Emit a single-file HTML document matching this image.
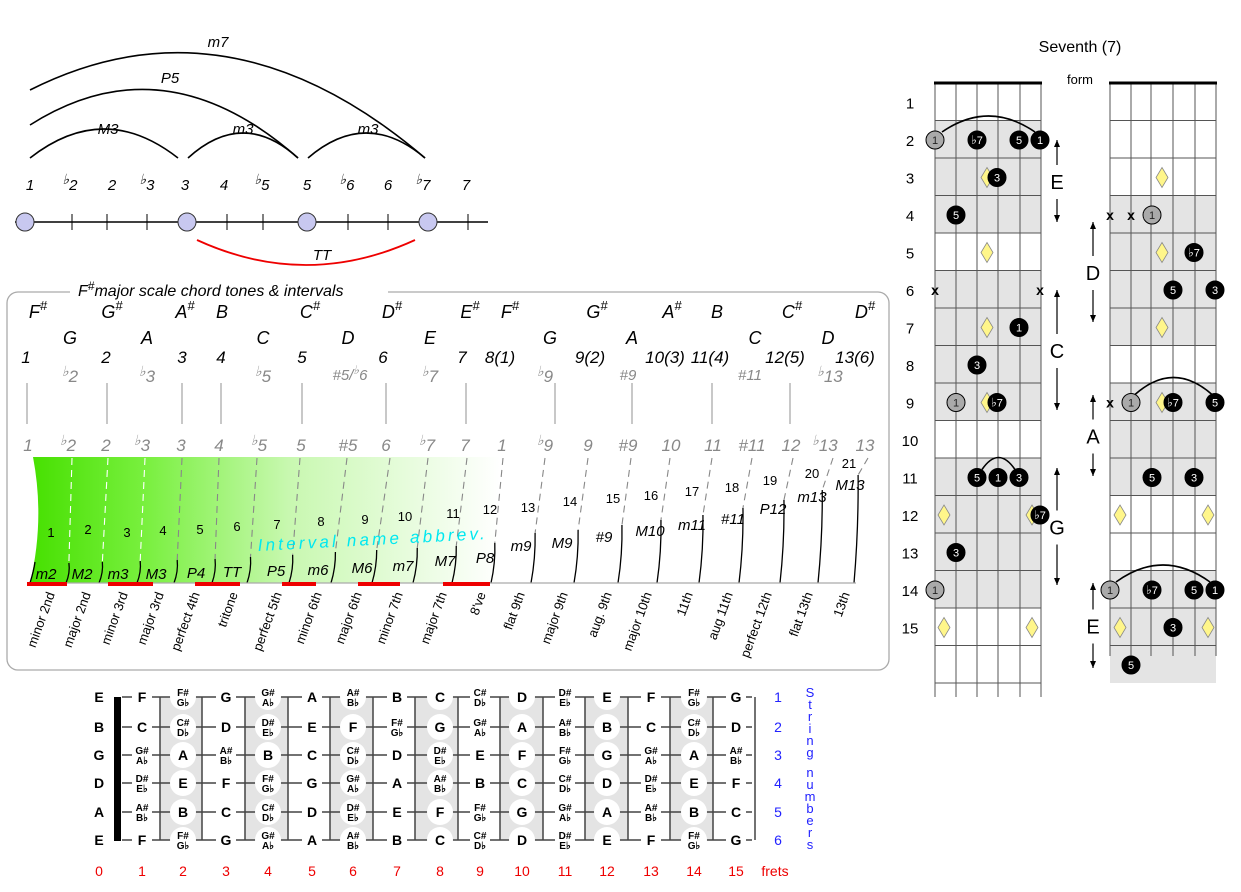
<!DOCTYPE html>
<html><head><meta charset="utf-8">
<style>
html,body{margin:0;padding:0;background:#fff;}
svg{display:block;font-family:"Liberation Sans",Arial,sans-serif;}
</style></head>
<body>
<svg id="s" width="1241" height="892" viewBox="0 0 1241 892" xmlns="http://www.w3.org/2000/svg">
<defs>
<linearGradient id="g" x1="0" x2="1" y1="0" y2="0">
<stop offset="0" stop-color="#46e000"/><stop offset="0.25" stop-color="#7af040"/><stop offset="0.55" stop-color="#c8f8b0"/><stop offset="1" stop-color="#ffffff"/>
</linearGradient>
</defs>
</svg>
<script>
var s=document.getElementById('s');var o='';
function T(x,y,t,a){o+='<text x="'+x+'" y="'+y+'" '+(a||'')+'>'+t+'</text>';}
function L(x1,y1,x2,y2,a){o+='<line x1="'+x1+'" y1="'+y1+'" x2="'+x2+'" y2="'+y2+'" '+(a||'stroke="#000"')+'/>';}
var fl='<tspan font-size="14" dy="-6">&#9837;</tspan><tspan dy="6">';
function flat(x,y,n,a){o+='<text x="'+x+'" y="'+y+'" '+a+'>'+fl+n+'</tspan></text>';}
// top interval diagram
var it='font-size="15" font-style="italic" text-anchor="middle"';
o+='<path d="M30,158 Q104,100 178,158" fill="none" stroke="#000" stroke-width="1.6"/>';
o+='<path d="M188,158 Q243,108 298,158" fill="none" stroke="#000" stroke-width="1.6"/>';
o+='<path d="M308,158 Q366,108 425,158" fill="none" stroke="#000" stroke-width="1.6"/>';
o+='<path d="M30,125 Q164,40 298,158" fill="none" stroke="#000" stroke-width="1.6"/>';
o+='<path d="M30,90 Q228,-10 425,158" fill="none" stroke="#000" stroke-width="1.6"/>';
T(108,134,'M3',it);T(243,134,'m3',it);T(368,134,'m3',it);T(170,83,'P5',it);T(218,47,'m7',it);
o+='<path d="M197,240 Q306,290 415,240" fill="none" stroke="#e00" stroke-width="1.8"/>';
T(322,260,'TT',it);
T(30,190,'1',it);flat(70,190,'2',it);T(112,190,'2',it);flat(147,190,'3',it);T(185,190,'3',it);T(224,190,'4',it);
flat(262,190,'5',it);T(307,190,'5',it);flat(347,190,'6',it);T(388,190,'6',it);flat(423,190,'7',it);T(466,190,'7',it);
L(15,222,488,222,'stroke="#000" stroke-width="1.6"');
[72,107,147,227,263,348,388,468].forEach(function(x){L(x,214,x,230);});
[25,187,307,428].forEach(function(x){o+='<circle cx="'+x+'" cy="222" r="9" fill="#c8c8f0" stroke="#333"/>';});
// panel
o+='<rect x="7" y="292" width="882" height="378" rx="11" fill="none" stroke="#aaa" stroke-width="1.3"/>';
o+='<rect x="70" y="282" width="318" height="18" fill="#fff"/>';
o+='<text x="78" y="296" font-size="16" font-style="italic">F<tspan font-size="12" dy="-6">#</tspan><tspan dy="6">major scale chord tones &amp; intervals</tspan></text>';
var nt='font-size="18" font-style="italic" text-anchor="middle"';
function sh(x,y,n){o+='<text x="'+x+'" y="'+y+'" '+nt+'>'+n+'<tspan font-size="13" dy="-8">#</tspan></text>';}
[[38,'F'],[112,'G'],[185,'A'],[310,'C'],[392,'D'],[470,'E'],[510,'F'],[597,'G'],[672,'A'],[792,'C'],[865,'D']].forEach(function(a){sh(a[0],318,a[1]);});
T(222,318,'B',nt);T(717,318,'B',nt);
[[70,'G'],[147,'A'],[263,'C'],[348,'D'],[430,'E'],[550,'G'],[632,'A'],[755,'C'],[828,'D']].forEach(function(a){T(a[0],344,a[1],nt);});
var bn='font-size="17" font-style="italic" text-anchor="middle"';
[[26,'1'],[106,'2'],[182,'3'],[221,'4'],[302,'5'],[383,'6'],[462,'7'],[500,'8(1)'],[590,'9(2)'],[665,'10(3)'],[710,'11(4)'],[785,'12(5)'],[855,'13(6)']].forEach(function(a){T(a[0],363,a[1],bn);});
var gn='font-size="17" font-style="italic" text-anchor="middle" fill="#888"';
flat(70,382,'2',gn);flat(147,382,'3',gn);flat(263,382,'5',gn);flat(545,382,'9',gn);flat(830,382,'13',gn);flat(430,382,'7',gn);
o+='<text x="350" y="380" font-size="15" font-style="italic" text-anchor="middle" fill="#888">#5/<tspan font-size="12" dy="-6">&#9837;</tspan><tspan dy="6">6</tspan></text>';
T(628,380,'#9','font-size="15" font-style="italic" text-anchor="middle" fill="#888"');T(750,380,'#11','font-size="15" font-style="italic" text-anchor="middle" fill="#888"');
[27,107,182,221,302,386,466,555,632,712,790].forEach(function(x){L(x,383,x,424,'stroke="#aaa" stroke-width="1.3"');});
var g2=[[28,'1'],[68,'b2'],[106,'2'],[142,'b3'],[181,'3'],[219,'4'],[259,'b5'],[301,'5'],[348,'#5'],[386,'6'],[427,'b7'],[465,'7'],[502,'1'],[545,'b9'],[588,'9'],[628,'#9'],[671,'10'],[713,'11'],[752,'#11'],[791,'12'],[825,'b13'],[865,'13']];
g2.forEach(function(a){if(a[1][0]=='b')flat(a[0],451,a[1].slice(1),gn);else T(a[0],451,a[1],gn);});
// green strip
o+='<path d="M33,457 L500,457 L500,583 L30,583 Q45,520 33,457 Z" fill="url(#g)"/>';
var dt=[72,108,145,182,219,257,300,347,390,428,467,503,545,588,631,670,712,752,793,833,868];
var bb=[66,99,137,174,212,247,289,331,372,413,452,491,531,574,618,657,699,739,780,818,854];
var tp=[563,562,561,560,559,557,555,552,550,548,546,543,533,530,525,520,515,508,500,490,475];
for(var i=0;i<dt.length;i++){var x=dt[i],xb=bb[i],yt=tp[i];var col=i<3?'#fff':'#888';
 var xm=xb+(x-xb)*0.15;
 L(x,458,xm+2,yt,'stroke="'+col+'" stroke-dasharray="7,5" stroke-width="1.1"');
 o+='<path d="M'+xb+',583 Q'+(xb+(xm-xb)*0.3+4)+','+((583+yt)/2)+' '+(xm+2)+','+yt+'" fill="none" stroke="#000" stroke-width="1.3"/>';}
o+='<path d="M30,583 Q34,570 35,562" fill="none" stroke="#000" stroke-width="1.3"/>';
L(27,583,856,583,'stroke="#aaa" stroke-width="1.3"');
[[27,67],[108,153],[195,240],[282,316],[358,400],[443,490]].forEach(function(a){L(a[0],584,a[1],584,'stroke="#e00" stroke-width="4"');});
var nums=[[51,537],[88,534],[127,537],[163,535],[200,534],[237,531],[277,529],[321,526],[365,524],[405,521],[453,518],[490,514],[528,512],[570,506],[613,503],[651,500],[692,496],[732,492],[770,485],[812,478],[849,468]];
nums.forEach(function(a,i){T(a[0],a[1],i+1,'font-size="13" text-anchor="middle"');});
var ab=[['m2',46,579],['M2',82,579],['m3',118,579],['M3',156,579],['P4',196,578],['TT',232,577],['P5',276,576],['m6',318,575],['M6',362,573],['m7',403,571],['M7',445,566],['P8',485,563],['m9',521,551],['M9',562,548],['#9',604,542],['M10',650,536],['m11',692,530],['#11',733,524],['P12',773,514],['m13',812,502],['M13',850,490]];
ab.forEach(function(a){T(a[1],a[2],a[0],'font-size="15" font-style="italic" text-anchor="middle"');});
o+='<text x="258" y="551" font-size="17" font-style="italic" fill="#00e8f0" letter-spacing="3.2" transform="rotate(-3 258 551)">Interval name abbrev.</text>';
var lb=[['minor 2nd',55],['major 2nd',91],['minor 3rd',128],['major 3rd',164],['perfect 4th',200],['tritone',238],['perfect 5th',282],['minor 6th',322],['major 6th',362],['minor 7th',403],['major 7th',447],['8\'ve',486],['flat 9th',525],['major 9th',568],['aug. 9th',612],['major 10th',652],['11th',693],['aug 11th',733],['perfect 12th',772],['flat 13th',813],['13th',850]];
lb.forEach(function(a){o+='<text x="'+a[1]+'" y="594" font-size="13" text-anchor="end" transform="rotate(-70 '+a[1]+' 594)">'+a[0]+'</text>';});
// bottom fretboard
var sy=[697,727,755,783,812,840];
var fx=[99,142,183,226,268,312,353,397,440,480,522,565,607,651,694,736];
var fline=[160,202,245,288,330,373,415,458,500,543,585,628,670,713,755];
for(var f=2;f<=14;f+=2){o+='<rect x="'+fline[f-2]+'" y="'+sy[0]+'" width="'+(fline[f-1]-fline[f-2])+'" height="143" fill="#e4e4e4"/>';}
sy.forEach(function(y){L(122,y,752,y,'stroke="#444" stroke-width="1.5"');});
fline.forEach(function(x){L(x,sy[0],x,sy[5],'stroke="#444" stroke-width="1.5"');});
o+='<rect x="114" y="697" width="7" height="144" fill="#000"/>';
var N=['C','C#','D','D#','E','F','F#','G','G#','A','A#','B'];var FL={'C#':'D','D#':'E','F#':'G','G#':'A','A#':'B'};
var op=[4,11,7,2,9,4];
for(var si=0;si<6;si++){for(var f=0;f<=15;f++){var n=N[(op[si]+f)%12];var x=fx[f],y=sy[si];
 if(f%2==0&&f>0)o+='<circle cx="'+x+'" cy="'+y+'" r="13" fill="#fff"/>';
 else if(f>0)o+='<rect x="'+(x-10)+'" y="'+(y-10)+'" width="20" height="20" fill="#fff"/>';
 if(n.length==1)T(x,y+5,n,'font-size="14" font-weight="bold" text-anchor="middle"');
 else{T(x,y-1,n,'font-size="10" font-weight="bold" text-anchor="middle"');T(x,y+9,FL[n]+'&#9837;','font-size="10" font-weight="bold" text-anchor="middle"');}
}}
fx.forEach(function(x,i){T(x,876,i,'font-size="14" fill="#e00" text-anchor="middle"');});
T(775,876,'frets','font-size="14" fill="#e00" text-anchor="middle"');
sy.forEach(function(y,i){T(778,y+5,i+1,'font-size="14" fill="#22f" text-anchor="middle"');});
var sn='Stringnumbers';for(var k=0;k<sn.length;k++){T(810,697+k*12+(k>=6?8:0),sn[k],'font-size="13" fill="#22f" text-anchor="middle"');}
// right chord diagrams
T(1080,52,'Seventh (7)','font-size="16" text-anchor="middle"');T(1080,84,'form','font-size="13" text-anchor="middle"');
var fy=function(n){return 83+n*37.5;};
function diag(xs,gray,nf,yend){
 gray.forEach(function(g){o+='<rect x="'+xs[0]+'" y="'+fy(g[0]-1)+'" width="'+(xs[5]-xs[0])+'" height="'+(fy(g[1])-fy(g[0]-1))+'" fill="#e4e4e4"/>';});
 for(var n=1;n<=nf;n++)L(xs[0],fy(n),xs[5],fy(n),'stroke="#555" stroke-width="1"');
 xs.forEach(function(x){L(x,83,x,yend,'stroke="#555" stroke-width="1"');});
 L(xs[0]-1,83,xs[5]+1,83,'stroke="#000" stroke-width="3"');
}
var A=[935,956,977,998,1020,1041],B=[1110,1131,1151,1173,1195,1216];
diag(A,[[2,4],[6,9],[11,14]],16,697);
diag(B,[[4,7],[9,11],[14,16]],15,656);
for(var n=1;n<=15;n++)T(910,fy(n)-12,n,'font-size="15" text-anchor="middle"');
function rc(n){return fy(n)-18;}
function dot(x,n,t,gr){var y=rc(n);o+='<circle cx="'+x+'" cy="'+y+'" r="9" fill="'+(gr?'#aaa':'#000')+'" stroke="#000"/>';
 if(t=='b7')o+='<text x="'+x+'" y="'+(y+4)+'" font-size="11" fill="'+(gr?'#222':'#fff')+'" text-anchor="middle"><tspan font-size="12">&#9837;</tspan>7</text>';
 else T(x,y+4,t,'font-size="11" fill="'+(gr?'#222':'#fff')+'" text-anchor="middle"');}
function dia(x,n){var y=rc(n);o+='<path d="M'+x+','+(y-10)+' L'+(x+6)+','+y+' L'+x+','+(y+10)+' L'+(x-6)+','+y+' Z" fill="#fff68a" stroke="#888" stroke-width="0.8"/>';}
function xx(x,n){T(x,rc(n)+5,'x','font-size="14" font-weight="bold" text-anchor="middle"');}
function arc(x1,x2,n,h){var y=rc(n)-8;o+='<path d="M'+x1+','+y+' Q'+((x1+x2)/2)+','+(y-h)+' '+x2+','+y+'" fill="none" stroke="#000" stroke-width="1.6"/>';}
// left
arc(942,1035,2,32);dot(935,2,'1',1);dot(977,2,'b7');dot(1019,2,'5');dot(1040,2,'1');
dia(987,3);dot(997,3,'3');dot(956,4,'5');dia(987,5);xx(935,6);xx(1040,6);dia(987,7);dot(1019,7,'1');dot(977,8,'3');
dot(956,9,'1',1);dia(987,9);dot(997,9,'b7');
arc(982,1015,11,24);dot(977,11,'5');dot(998,11,'1');dot(1019,11,'3');
dia(944,12);dia(1032,12);dot(1040,12,'b7');dot(956,13,'3');dot(935,14,'1',1);dia(944,15);dia(1032,15);
// right
dia(1162,3);xx(1110,4);xx(1131,4);dot(1152,4,'1',1);dia(1162,5);dot(1194,5,'b7');dot(1173,6,'5');dot(1215,6,'3');dia(1162,7);
arc(1135,1212,9,34);xx(1110,9);dot(1131,9,'1',1);dia(1162,9);dot(1173,9,'b7');dot(1215,9,'5');
dot(1152,11,'5');dot(1194,11,'3');dia(1120,12);dia(1208,12);
arc(1116,1210,14,34);dot(1110,14,'1',1);dot(1152,14,'b7');dot(1194,14,'5');dot(1215,14,'1');
dia(1120,15);dia(1208,15);dot(1173,15,'3');dot(1131,16,'5');
// side labels
function side(x,y1,y2,lab){var ym=(y1+y2)/2;T(x,ym+8,lab,'font-size="20" text-anchor="middle"');
 L(x,ym-16,x,y1,'stroke="#000" stroke-width="1.2"');o+='<path d="M'+(x-3)+','+(y1+7)+' L'+x+','+y1+' L'+(x+3)+','+(y1+7)+' Z"/>';
 L(x,ym+18,x,y2,'stroke="#000" stroke-width="1.2"');o+='<path d="M'+(x-3)+','+(y2-7)+' L'+x+','+y2+' L'+(x+3)+','+(y2-7)+' Z"/>';}
side(1057,140,222,'E');side(1057,290,410,'C');side(1057,468,585,'G');
side(1093,222,322,'D');side(1093,395,476,'A');side(1093,583,668,'E');
s.innerHTML+=o;
</script>
</body></html>
